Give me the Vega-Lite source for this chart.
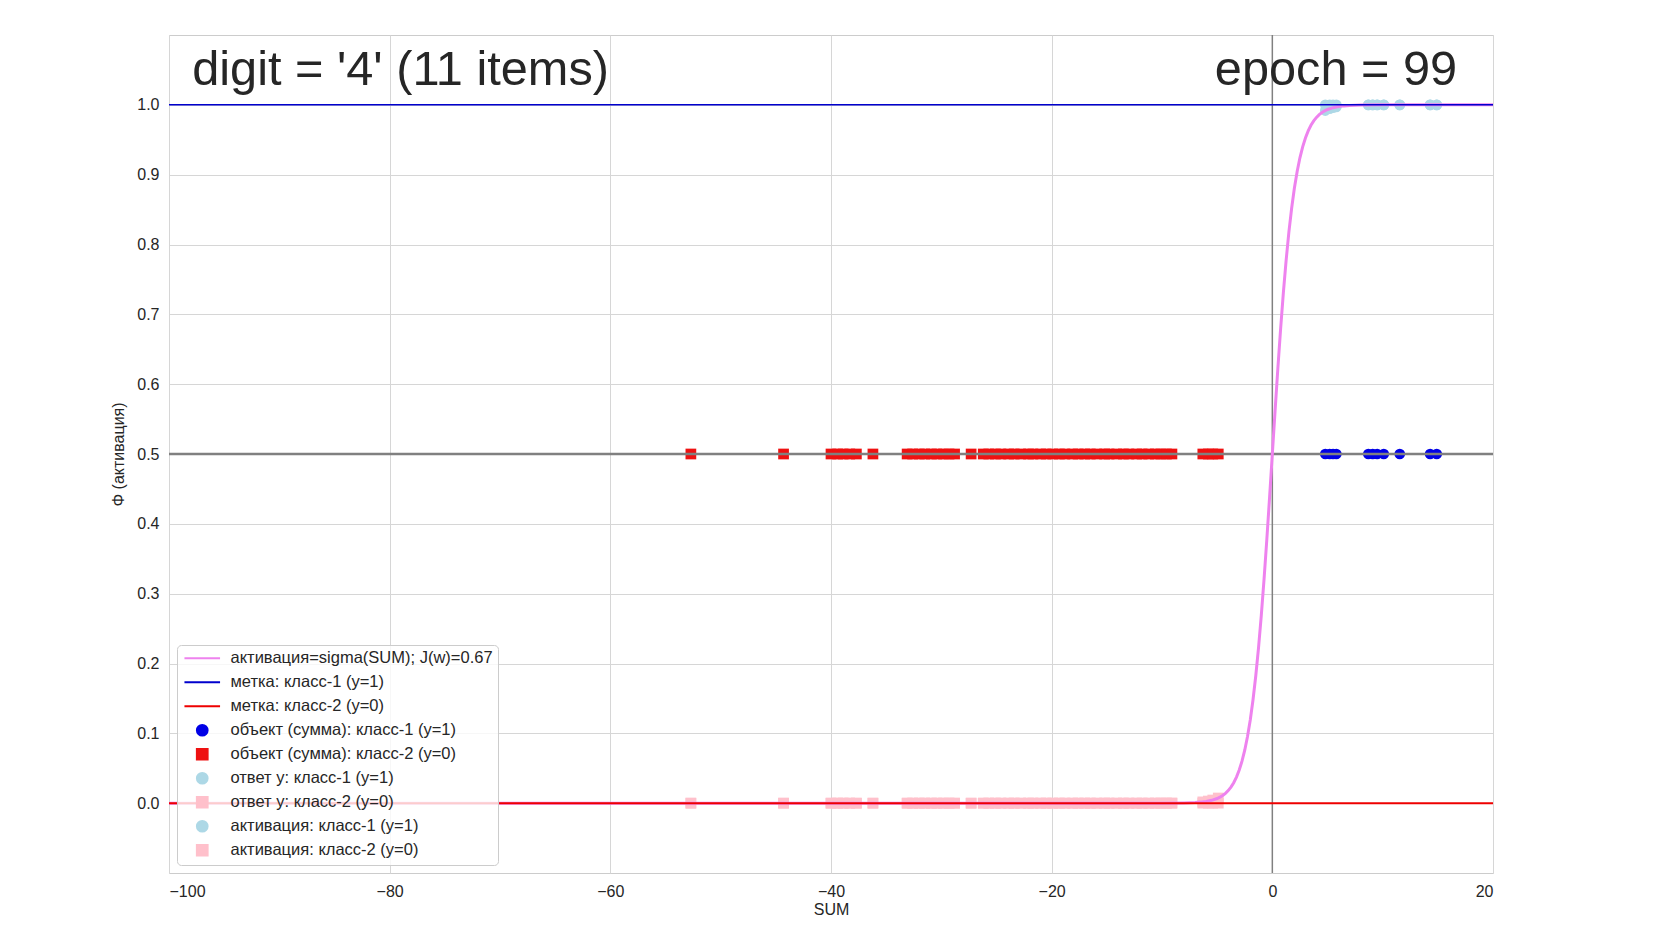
{
  "$schema": "https://vega.github.io/schema/vega-lite/v6.json",
  "autosize": {"type": "none"},
  "padding": {"left": 169, "top": 35, "right": 161, "bottom": 57},
  "width": 1324,
  "height": 838,
  "background": "white",
  "data": {"values": [{}]},
  "datasets": {
    "points": [
      {"sum": -52.7, "y": 0, "series": "ответ y: класс-2 (y=0)"},
      {"sum": -44.3, "y": 0, "series": "ответ y: класс-2 (y=0)"},
      {"sum": -40.0, "y": 0, "series": "ответ y: класс-2 (y=0)"},
      {"sum": -39.4, "y": 0, "series": "ответ y: класс-2 (y=0)"},
      {"sum": -38.9, "y": 0, "series": "ответ y: класс-2 (y=0)"},
      {"sum": -38.3, "y": 0, "series": "ответ y: класс-2 (y=0)"},
      {"sum": -37.7, "y": 0, "series": "ответ y: класс-2 (y=0)"},
      {"sum": -36.2, "y": 0, "series": "ответ y: класс-2 (y=0)"},
      {"sum": -33.1, "y": 0, "series": "ответ y: класс-2 (y=0)"},
      {"sum": -32.6, "y": 0, "series": "ответ y: класс-2 (y=0)"},
      {"sum": -32.0, "y": 0, "series": "ответ y: класс-2 (y=0)"},
      {"sum": -31.5, "y": 0, "series": "ответ y: класс-2 (y=0)"},
      {"sum": -30.9, "y": 0, "series": "ответ y: класс-2 (y=0)"},
      {"sum": -30.4, "y": 0, "series": "ответ y: класс-2 (y=0)"},
      {"sum": -29.8, "y": 0, "series": "ответ y: класс-2 (y=0)"},
      {"sum": -29.3, "y": 0, "series": "ответ y: класс-2 (y=0)"},
      {"sum": -28.8, "y": 0, "series": "ответ y: класс-2 (y=0)"},
      {"sum": -27.3, "y": 0, "series": "ответ y: класс-2 (y=0)"},
      {"sum": -26.2, "y": 0, "series": "ответ y: класс-2 (y=0)"},
      {"sum": -25.7, "y": 0, "series": "ответ y: класс-2 (y=0)"},
      {"sum": -25.1, "y": 0, "series": "ответ y: класс-2 (y=0)"},
      {"sum": -24.6, "y": 0, "series": "ответ y: класс-2 (y=0)"},
      {"sum": -23.9, "y": 0, "series": "ответ y: класс-2 (y=0)"},
      {"sum": -23.4, "y": 0, "series": "ответ y: класс-2 (y=0)"},
      {"sum": -22.8, "y": 0, "series": "ответ y: класс-2 (y=0)"},
      {"sum": -22.1, "y": 0, "series": "ответ y: класс-2 (y=0)"},
      {"sum": -21.7, "y": 0, "series": "ответ y: класс-2 (y=0)"},
      {"sum": -21.0, "y": 0, "series": "ответ y: класс-2 (y=0)"},
      {"sum": -20.5, "y": 0, "series": "ответ y: класс-2 (y=0)"},
      {"sum": -19.9, "y": 0, "series": "ответ y: класс-2 (y=0)"},
      {"sum": -19.3, "y": 0, "series": "ответ y: класс-2 (y=0)"},
      {"sum": -18.8, "y": 0, "series": "ответ y: класс-2 (y=0)"},
      {"sum": -18.1, "y": 0, "series": "ответ y: класс-2 (y=0)"},
      {"sum": -17.6, "y": 0, "series": "ответ y: класс-2 (y=0)"},
      {"sum": -17.0, "y": 0, "series": "ответ y: класс-2 (y=0)"},
      {"sum": -16.5, "y": 0, "series": "ответ y: класс-2 (y=0)"},
      {"sum": -15.9, "y": 0, "series": "ответ y: класс-2 (y=0)"},
      {"sum": -15.2, "y": 0, "series": "ответ y: класс-2 (y=0)"},
      {"sum": -14.8, "y": 0, "series": "ответ y: класс-2 (y=0)"},
      {"sum": -14.1, "y": 0, "series": "ответ y: класс-2 (y=0)"},
      {"sum": -13.5, "y": 0, "series": "ответ y: класс-2 (y=0)"},
      {"sum": -13.0, "y": 0, "series": "ответ y: класс-2 (y=0)"},
      {"sum": -12.3, "y": 0, "series": "ответ y: класс-2 (y=0)"},
      {"sum": -11.8, "y": 0, "series": "ответ y: класс-2 (y=0)"},
      {"sum": -11.2, "y": 0, "series": "ответ y: класс-2 (y=0)"},
      {"sum": -10.6, "y": 0, "series": "ответ y: класс-2 (y=0)"},
      {"sum": -10.1, "y": 0, "series": "ответ y: класс-2 (y=0)"},
      {"sum": -9.6, "y": 0, "series": "ответ y: класс-2 (y=0)"},
      {"sum": -9.1, "y": 0, "series": "ответ y: класс-2 (y=0)"},
      {"sum": -6.3, "y": 0, "series": "ответ y: класс-2 (y=0)"},
      {"sum": -5.8, "y": 0, "series": "ответ y: класс-2 (y=0)"},
      {"sum": -5.4, "y": 0, "series": "ответ y: класс-2 (y=0)"},
      {"sum": -4.9, "y": 0, "series": "ответ y: класс-2 (y=0)"},
      {"sum": -52.7, "y": 0.0, "series": "активация: класс-2 (y=0)"},
      {"sum": -44.3, "y": 0.0, "series": "активация: класс-2 (y=0)"},
      {"sum": -40.0, "y": 0.0, "series": "активация: класс-2 (y=0)"},
      {"sum": -39.4, "y": 0.0, "series": "активация: класс-2 (y=0)"},
      {"sum": -38.9, "y": 0.0, "series": "активация: класс-2 (y=0)"},
      {"sum": -38.3, "y": 0.0, "series": "активация: класс-2 (y=0)"},
      {"sum": -37.7, "y": 0.0, "series": "активация: класс-2 (y=0)"},
      {"sum": -36.2, "y": 0.0, "series": "активация: класс-2 (y=0)"},
      {"sum": -33.1, "y": 0.0, "series": "активация: класс-2 (y=0)"},
      {"sum": -32.6, "y": 0.0, "series": "активация: класс-2 (y=0)"},
      {"sum": -32.0, "y": 0.0, "series": "активация: класс-2 (y=0)"},
      {"sum": -31.5, "y": 0.0, "series": "активация: класс-2 (y=0)"},
      {"sum": -30.9, "y": 0.0, "series": "активация: класс-2 (y=0)"},
      {"sum": -30.4, "y": 0.0, "series": "активация: класс-2 (y=0)"},
      {"sum": -29.8, "y": 0.0, "series": "активация: класс-2 (y=0)"},
      {"sum": -29.3, "y": 0.0, "series": "активация: класс-2 (y=0)"},
      {"sum": -28.8, "y": 0.0, "series": "активация: класс-2 (y=0)"},
      {"sum": -27.3, "y": 0.0, "series": "активация: класс-2 (y=0)"},
      {"sum": -26.2, "y": 0.0, "series": "активация: класс-2 (y=0)"},
      {"sum": -25.7, "y": 0.0, "series": "активация: класс-2 (y=0)"},
      {"sum": -25.1, "y": 0.0, "series": "активация: класс-2 (y=0)"},
      {"sum": -24.6, "y": 0.0, "series": "активация: класс-2 (y=0)"},
      {"sum": -23.9, "y": 0.0, "series": "активация: класс-2 (y=0)"},
      {"sum": -23.4, "y": 0.0, "series": "активация: класс-2 (y=0)"},
      {"sum": -22.8, "y": 0.0, "series": "активация: класс-2 (y=0)"},
      {"sum": -22.1, "y": 0.0, "series": "активация: класс-2 (y=0)"},
      {"sum": -21.7, "y": 0.0, "series": "активация: класс-2 (y=0)"},
      {"sum": -21.0, "y": 0.0, "series": "активация: класс-2 (y=0)"},
      {"sum": -20.5, "y": 0.0, "series": "активация: класс-2 (y=0)"},
      {"sum": -19.9, "y": 0.0, "series": "активация: класс-2 (y=0)"},
      {"sum": -19.3, "y": 0.0, "series": "активация: класс-2 (y=0)"},
      {"sum": -18.8, "y": 0.0, "series": "активация: класс-2 (y=0)"},
      {"sum": -18.1, "y": 0.0, "series": "активация: класс-2 (y=0)"},
      {"sum": -17.6, "y": 0.0, "series": "активация: класс-2 (y=0)"},
      {"sum": -17.0, "y": 0.0, "series": "активация: класс-2 (y=0)"},
      {"sum": -16.5, "y": 0.0, "series": "активация: класс-2 (y=0)"},
      {"sum": -15.9, "y": 0.0, "series": "активация: класс-2 (y=0)"},
      {"sum": -15.2, "y": 0.0, "series": "активация: класс-2 (y=0)"},
      {"sum": -14.8, "y": 0.0, "series": "активация: класс-2 (y=0)"},
      {"sum": -14.1, "y": 0.0, "series": "активация: класс-2 (y=0)"},
      {"sum": -13.5, "y": 0.0, "series": "активация: класс-2 (y=0)"},
      {"sum": -13.0, "y": 0.0, "series": "активация: класс-2 (y=0)"},
      {"sum": -12.3, "y": 0.0, "series": "активация: класс-2 (y=0)"},
      {"sum": -11.8, "y": 0.00001, "series": "активация: класс-2 (y=0)"},
      {"sum": -11.2, "y": 0.00001, "series": "активация: класс-2 (y=0)"},
      {"sum": -10.6, "y": 0.00002, "series": "активация: класс-2 (y=0)"},
      {"sum": -10.1, "y": 0.00004, "series": "активация: класс-2 (y=0)"},
      {"sum": -9.6, "y": 0.00007, "series": "активация: класс-2 (y=0)"},
      {"sum": -9.1, "y": 0.00011, "series": "активация: класс-2 (y=0)"},
      {"sum": -6.3, "y": 0.00183, "series": "активация: класс-2 (y=0)"},
      {"sum": -5.8, "y": 0.00302, "series": "активация: класс-2 (y=0)"},
      {"sum": -5.4, "y": 0.00449, "series": "активация: класс-2 (y=0)"},
      {"sum": -4.9, "y": 0.00739, "series": "активация: класс-2 (y=0)"},
      {"sum": 4.8, "y": 1, "series": "ответ y: класс-1 (y=1)"},
      {"sum": 5.2, "y": 1, "series": "ответ y: класс-1 (y=1)"},
      {"sum": 5.5, "y": 1, "series": "ответ y: класс-1 (y=1)"},
      {"sum": 5.8, "y": 1, "series": "ответ y: класс-1 (y=1)"},
      {"sum": 8.7, "y": 1, "series": "ответ y: класс-1 (y=1)"},
      {"sum": 9.1, "y": 1, "series": "ответ y: класс-1 (y=1)"},
      {"sum": 9.5, "y": 1, "series": "ответ y: класс-1 (y=1)"},
      {"sum": 10.1, "y": 1, "series": "ответ y: класс-1 (y=1)"},
      {"sum": 11.55, "y": 1, "series": "ответ y: класс-1 (y=1)"},
      {"sum": 14.3, "y": 1, "series": "ответ y: класс-1 (y=1)"},
      {"sum": 14.9, "y": 1, "series": "ответ y: класс-1 (y=1)"},
      {"sum": 4.8, "y": 0.99184, "series": "активация: класс-1 (y=1)"},
      {"sum": 5.2, "y": 0.99451, "series": "активация: класс-1 (y=1)"},
      {"sum": 5.5, "y": 0.99593, "series": "активация: класс-1 (y=1)"},
      {"sum": 5.8, "y": 0.99698, "series": "активация: класс-1 (y=1)"},
      {"sum": 8.7, "y": 0.99983, "series": "активация: класс-1 (y=1)"},
      {"sum": 9.1, "y": 0.99989, "series": "активация: класс-1 (y=1)"},
      {"sum": 9.5, "y": 0.99993, "series": "активация: класс-1 (y=1)"},
      {"sum": 10.1, "y": 0.99996, "series": "активация: класс-1 (y=1)"},
      {"sum": 11.55, "y": 0.99999, "series": "активация: класс-1 (y=1)"},
      {"sum": 14.3, "y": 1.0, "series": "активация: класс-1 (y=1)"},
      {"sum": 14.9, "y": 1.0, "series": "активация: класс-1 (y=1)"},
      {"sum": -52.7, "y": 0.5, "series": "объект (сумма): класс-2 (y=0)"},
      {"sum": -44.3, "y": 0.5, "series": "объект (сумма): класс-2 (y=0)"},
      {"sum": -40.0, "y": 0.5, "series": "объект (сумма): класс-2 (y=0)"},
      {"sum": -39.4, "y": 0.5, "series": "объект (сумма): класс-2 (y=0)"},
      {"sum": -38.9, "y": 0.5, "series": "объект (сумма): класс-2 (y=0)"},
      {"sum": -38.3, "y": 0.5, "series": "объект (сумма): класс-2 (y=0)"},
      {"sum": -37.7, "y": 0.5, "series": "объект (сумма): класс-2 (y=0)"},
      {"sum": -36.2, "y": 0.5, "series": "объект (сумма): класс-2 (y=0)"},
      {"sum": -33.1, "y": 0.5, "series": "объект (сумма): класс-2 (y=0)"},
      {"sum": -32.6, "y": 0.5, "series": "объект (сумма): класс-2 (y=0)"},
      {"sum": -32.0, "y": 0.5, "series": "объект (сумма): класс-2 (y=0)"},
      {"sum": -31.5, "y": 0.5, "series": "объект (сумма): класс-2 (y=0)"},
      {"sum": -30.9, "y": 0.5, "series": "объект (сумма): класс-2 (y=0)"},
      {"sum": -30.4, "y": 0.5, "series": "объект (сумма): класс-2 (y=0)"},
      {"sum": -29.8, "y": 0.5, "series": "объект (сумма): класс-2 (y=0)"},
      {"sum": -29.3, "y": 0.5, "series": "объект (сумма): класс-2 (y=0)"},
      {"sum": -28.8, "y": 0.5, "series": "объект (сумма): класс-2 (y=0)"},
      {"sum": -27.3, "y": 0.5, "series": "объект (сумма): класс-2 (y=0)"},
      {"sum": -26.2, "y": 0.5, "series": "объект (сумма): класс-2 (y=0)"},
      {"sum": -25.7, "y": 0.5, "series": "объект (сумма): класс-2 (y=0)"},
      {"sum": -25.1, "y": 0.5, "series": "объект (сумма): класс-2 (y=0)"},
      {"sum": -24.6, "y": 0.5, "series": "объект (сумма): класс-2 (y=0)"},
      {"sum": -23.9, "y": 0.5, "series": "объект (сумма): класс-2 (y=0)"},
      {"sum": -23.4, "y": 0.5, "series": "объект (сумма): класс-2 (y=0)"},
      {"sum": -22.8, "y": 0.5, "series": "объект (сумма): класс-2 (y=0)"},
      {"sum": -22.1, "y": 0.5, "series": "объект (сумма): класс-2 (y=0)"},
      {"sum": -21.7, "y": 0.5, "series": "объект (сумма): класс-2 (y=0)"},
      {"sum": -21.0, "y": 0.5, "series": "объект (сумма): класс-2 (y=0)"},
      {"sum": -20.5, "y": 0.5, "series": "объект (сумма): класс-2 (y=0)"},
      {"sum": -19.9, "y": 0.5, "series": "объект (сумма): класс-2 (y=0)"},
      {"sum": -19.3, "y": 0.5, "series": "объект (сумма): класс-2 (y=0)"},
      {"sum": -18.8, "y": 0.5, "series": "объект (сумма): класс-2 (y=0)"},
      {"sum": -18.1, "y": 0.5, "series": "объект (сумма): класс-2 (y=0)"},
      {"sum": -17.6, "y": 0.5, "series": "объект (сумма): класс-2 (y=0)"},
      {"sum": -17.0, "y": 0.5, "series": "объект (сумма): класс-2 (y=0)"},
      {"sum": -16.5, "y": 0.5, "series": "объект (сумма): класс-2 (y=0)"},
      {"sum": -15.9, "y": 0.5, "series": "объект (сумма): класс-2 (y=0)"},
      {"sum": -15.2, "y": 0.5, "series": "объект (сумма): класс-2 (y=0)"},
      {"sum": -14.8, "y": 0.5, "series": "объект (сумма): класс-2 (y=0)"},
      {"sum": -14.1, "y": 0.5, "series": "объект (сумма): класс-2 (y=0)"},
      {"sum": -13.5, "y": 0.5, "series": "объект (сумма): класс-2 (y=0)"},
      {"sum": -13.0, "y": 0.5, "series": "объект (сумма): класс-2 (y=0)"},
      {"sum": -12.3, "y": 0.5, "series": "объект (сумма): класс-2 (y=0)"},
      {"sum": -11.8, "y": 0.5, "series": "объект (сумма): класс-2 (y=0)"},
      {"sum": -11.2, "y": 0.5, "series": "объект (сумма): класс-2 (y=0)"},
      {"sum": -10.6, "y": 0.5, "series": "объект (сумма): класс-2 (y=0)"},
      {"sum": -10.1, "y": 0.5, "series": "объект (сумма): класс-2 (y=0)"},
      {"sum": -9.6, "y": 0.5, "series": "объект (сумма): класс-2 (y=0)"},
      {"sum": -9.1, "y": 0.5, "series": "объект (сумма): класс-2 (y=0)"},
      {"sum": -6.3, "y": 0.5, "series": "объект (сумма): класс-2 (y=0)"},
      {"sum": -5.8, "y": 0.5, "series": "объект (сумма): класс-2 (y=0)"},
      {"sum": -5.4, "y": 0.5, "series": "объект (сумма): класс-2 (y=0)"},
      {"sum": -4.9, "y": 0.5, "series": "объект (сумма): класс-2 (y=0)"},
      {"sum": 4.8, "y": 0.5, "series": "объект (сумма): класс-1 (y=1)"},
      {"sum": 5.2, "y": 0.5, "series": "объект (сумма): класс-1 (y=1)"},
      {"sum": 5.5, "y": 0.5, "series": "объект (сумма): класс-1 (y=1)"},
      {"sum": 5.8, "y": 0.5, "series": "объект (сумма): класс-1 (y=1)"},
      {"sum": 8.7, "y": 0.5, "series": "объект (сумма): класс-1 (y=1)"},
      {"sum": 9.1, "y": 0.5, "series": "объект (сумма): класс-1 (y=1)"},
      {"sum": 9.5, "y": 0.5, "series": "объект (сумма): класс-1 (y=1)"},
      {"sum": 10.1, "y": 0.5, "series": "объект (сумма): класс-1 (y=1)"},
      {"sum": 11.55, "y": 0.5, "series": "объект (сумма): класс-1 (y=1)"},
      {"sum": 14.3, "y": 0.5, "series": "объект (сумма): класс-1 (y=1)"},
      {"sum": 14.9, "y": 0.5, "series": "объект (сумма): класс-1 (y=1)"}
    ],
    "curve": [
      {"sum": -100, "act": 0.0},
      {"sum": -50, "act": 0.0},
      {"sum": -20, "act": 0.0},
      {"sum": -10, "act": 0.00005},
      {"sum": -8, "act": 0.000335},
      {"sum": -7.5, "act": 0.000553},
      {"sum": -7, "act": 0.000911},
      {"sum": -6.5, "act": 0.001501},
      {"sum": -6, "act": 0.002473},
      {"sum": -5.5, "act": 0.00407},
      {"sum": -5, "act": 0.006693},
      {"sum": -4.75, "act": 0.008577},
      {"sum": -4.5, "act": 0.010987},
      {"sum": -4.25, "act": 0.014063},
      {"sum": -4, "act": 0.017986},
      {"sum": -3.75, "act": 0.022977},
      {"sum": -3.5, "act": 0.029312},
      {"sum": -3.25, "act": 0.037327},
      {"sum": -3, "act": 0.047426},
      {"sum": -2.75, "act": 0.060087},
      {"sum": -2.5, "act": 0.075858},
      {"sum": -2.25, "act": 0.095349},
      {"sum": -2, "act": 0.119203},
      {"sum": -1.75, "act": 0.148047},
      {"sum": -1.5, "act": 0.182426},
      {"sum": -1.25, "act": 0.2227},
      {"sum": -1, "act": 0.268941},
      {"sum": -0.75, "act": 0.320821},
      {"sum": -0.5, "act": 0.377541},
      {"sum": -0.25, "act": 0.437823},
      {"sum": 0, "act": 0.5},
      {"sum": 0.25, "act": 0.562177},
      {"sum": 0.5, "act": 0.622459},
      {"sum": 0.75, "act": 0.679179},
      {"sum": 1, "act": 0.731059},
      {"sum": 1.25, "act": 0.7773},
      {"sum": 1.5, "act": 0.817574},
      {"sum": 1.75, "act": 0.851953},
      {"sum": 2, "act": 0.880797},
      {"sum": 2.25, "act": 0.904651},
      {"sum": 2.5, "act": 0.924142},
      {"sum": 2.75, "act": 0.939913},
      {"sum": 3, "act": 0.952574},
      {"sum": 3.25, "act": 0.962673},
      {"sum": 3.5, "act": 0.970688},
      {"sum": 3.75, "act": 0.977023},
      {"sum": 4, "act": 0.982014},
      {"sum": 4.25, "act": 0.985937},
      {"sum": 4.5, "act": 0.989013},
      {"sum": 4.75, "act": 0.991423},
      {"sum": 5, "act": 0.993307},
      {"sum": 5.5, "act": 0.99593},
      {"sum": 6, "act": 0.997527},
      {"sum": 6.5, "act": 0.998499},
      {"sum": 7, "act": 0.999089},
      {"sum": 7.5, "act": 0.999447},
      {"sum": 8, "act": 0.999665},
      {"sum": 10, "act": 0.99995},
      {"sum": 15, "act": 1.0},
      {"sum": 20, "act": 1.0}
    ]
  },
  "config": {
    "font": "Liberation Sans",
    "view": {"stroke": "#cccccc", "strokeWidth": 1},
    "axis": {
      "labelFont": "Liberation Sans",
      "titleFont": "Liberation Sans",
      "labelFontSize": 16,
      "titleFontSize": 16,
      "titleFontWeight": "normal",
      "labelColor": "#262626",
      "titleColor": "#262626",
      "gridColor": "#d6d6d6",
      "gridWidth": 1,
      "domain": false,
      "ticks": false
    },
    "axisX": {"labelPadding": 10, "titlePadding": 2},
    "axisY": {"labelPadding": 10, "titlePadding": 10},
    "legend": {
      "orient": "bottom-left",
      "offset": 8,
      "padding": 5,
      "strokeColor": "#cccccc",
      "fillColor": "rgba(255,255,255,0.8)",
      "cornerRadius": 4,
      "labelFont": "Liberation Sans",
      "labelFontSize": 16.5,
      "labelColor": "#262626",
      "symbolSize": 115,
      "symbolOffset": 12,
      "labelOffset": 20,
      "symbolStrokeWidth": 2,
      "rowPadding": 4,
      "labelLimit": 400
    }
  },
  "layer": [
    {
      "mark": {"type": "rule", "color": "#808080", "strokeWidth": 1.5},
      "encoding": {"x": {"datum": 0, "type": "quantitative"}}
    },
    {
      "data": {"name": "points"},
      "mark": {"type": "point", "filled": true, "opacity": 1, "strokeWidth": 0, "size": 115},
      "encoding": {
        "x": {
          "field": "sum", "type": "quantitative", "title": "SUM",
          "scale": {"domain": [-100, 20], "nice": false, "zero": false},
          "axis": {"values": [-100, -80, -60, -40, -20, 0, 20], "grid": true}
        },
        "y": {
          "field": "y", "type": "quantitative", "title": "Φ (активация)",
          "scale": {"domain": [-0.1, 1.1], "nice": false, "zero": false},
          "axis": {"values": [0, 0.1, 0.2, 0.3, 0.4, 0.5, 0.6, 0.7, 0.8, 0.9, 1.0], "format": ".1f", "grid": true}
        },
        "color": {
          "field": "series",
          "type": "nominal",
          "scale": {
            "domain": ["активация=sigma(SUM); J(w)=0.67", "метка: класс-1 (y=1)", "метка: класс-2 (y=0)", "объект (сумма): класс-1 (y=1)", "объект (сумма): класс-2 (y=0)", "ответ y: класс-1 (y=1)", "ответ y: класс-2 (y=0)", "активация: класс-1 (y=1)", "активация: класс-2 (y=0)"],
            "range": ["violet", "#0000cd", "#ee0000", "#0000e6", "#ee1111", "lightblue", "pink", "lightblue", "pink"]
          },
          "legend": {"title": null}
        },
        "shape": {
          "field": "series",
          "type": "nominal",
          "scale": {
            "domain": ["активация=sigma(SUM); J(w)=0.67", "метка: класс-1 (y=1)", "метка: класс-2 (y=0)", "объект (сумма): класс-1 (y=1)", "объект (сумма): класс-2 (y=0)", "ответ y: класс-1 (y=1)", "ответ y: класс-2 (y=0)", "активация: класс-1 (y=1)", "активация: класс-2 (y=0)"],
            "range": ["M-3.32,-1L-3.32,-1M-3.32,0H3.32M3.32,1L3.32,1", "M-3.32,-1L-3.32,-1M-3.32,0H3.32M3.32,1L3.32,1", "M-3.32,-1L-3.32,-1M-3.32,0H3.32M3.32,1L3.32,1", "circle", "square", "circle", "square", "circle", "square"]
          },
          "legend": {"title": null}
        }
      }
    },
    {
      "mark": {"type": "rule", "color": "#808080", "strokeWidth": 2.7},
      "encoding": {"y": {"datum": 0.5, "type": "quantitative"}}
    },
    {
      "data": {"name": "curve"},
      "mark": {"type": "line", "strokeWidth": 3, "opacity": 1},
      "encoding": {
        "x": {"field": "sum", "type": "quantitative"},
        "y": {"field": "act", "type": "quantitative"},
        "color": {"datum": "активация=sigma(SUM); J(w)=0.67", "type": "nominal"}
      }
    },
    {
      "mark": {"type": "rule", "strokeWidth": 2},
      "encoding": {
        "y": {"datum": 0, "type": "quantitative"},
        "color": {"datum": "метка: класс-2 (y=0)", "type": "nominal"}
      }
    },
    {
      "mark": {"type": "rule", "strokeWidth": 1.5},
      "encoding": {
        "y": {"datum": 1, "type": "quantitative"},
        "color": {"datum": "метка: класс-1 (y=1)", "type": "nominal"}
      }
    },
    {
      "mark": {"type": "text", "align": "left", "baseline": "alphabetic", "fontSize": 48.7, "color": "#262626", "font": "Liberation Sans"},
      "encoding": {
        "x": {"datum": -97.9, "type": "quantitative"},
        "y": {"datum": 1.028, "type": "quantitative"},
        "text": {"value": "digit = '4' (11 items)"}
      }
    },
    {
      "mark": {"type": "text", "align": "right", "baseline": "alphabetic", "fontSize": 48.7, "color": "#262626", "font": "Liberation Sans"},
      "encoding": {
        "x": {"datum": 16.75, "type": "quantitative"},
        "y": {"datum": 1.028, "type": "quantitative"},
        "text": {"value": "epoch = 99"}
      }
    }
  ]
}
